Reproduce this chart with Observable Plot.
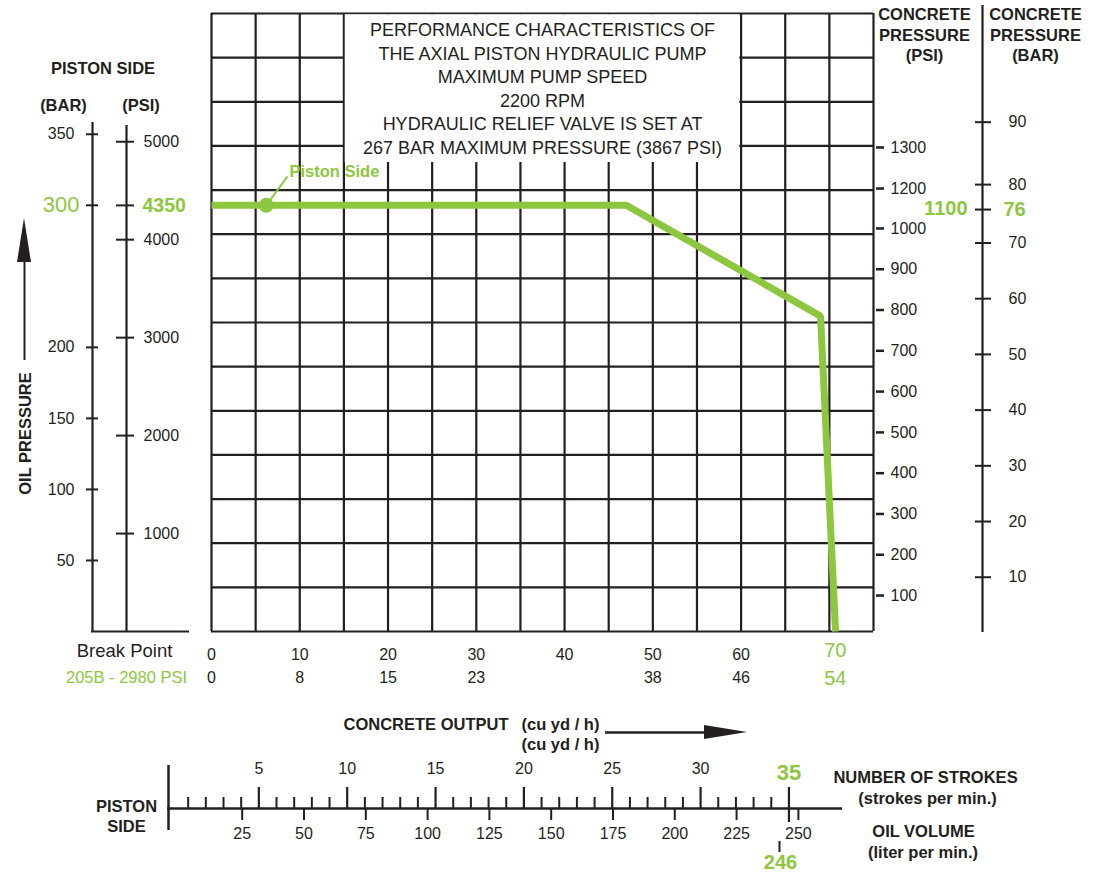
<!DOCTYPE html>
<html><head><meta charset="utf-8">
<script src="https://cdn.jsdelivr.net/npm/d3@7"></script>
<script src="https://cdn.jsdelivr.net/npm/@observablehq/plot@0.6"></script>
<style>html,body{margin:0;padding:0;background:#fff;}</style>
</head><body><div id="chart"></div>
<script>
// ================= DATA =================
const titleLines = ["PERFORMANCE CHARACTERISTICS OF","THE AXIAL PISTON HYDRAULIC PUMP","MAXIMUM PUMP SPEED","2200 RPM","HYDRAULIC RELIEF VALVE IS SET AT","267 BAR MAXIMUM PRESSURE (3867 PSI)"];
// performance curve: concrete output (cu yd/h) vs oil pressure (bar)
const curveOutput = [0, 47, 69, 70.7];
const curveOilBar = [300, 300, 222, 0];
const pistonSideOutput = 6.2;
const pistonSideLabel = "Piston Side";
// left axes (oil pressure)
const oilBarTicks = [50, 100, 150, 200, 350];
const oilBarMark = 300;
const oilPsiTicks = [1000, 2000, 3000, 4000, 5000];
const oilPsiMark = 4350;
// right axes (concrete pressure)
const concretePsiTicks = [100, 200, 300, 400, 500, 600, 700, 800, 900, 1000, 1200, 1300];
const concretePsiMark = 1100;
const concreteBarTicks = [10, 20, 30, 40, 50, 60, 70, 80, 90];
const concreteBarMark = 76;
// bottom axis (concrete output)
const outputTicks = [0, 10, 20, 30, 40, 50, 60];
const outputTicks2 = ["0", "8", "15", "23", "", "38", "46"];
const outputMark = 70;
const outputMark2 = "54";
// strokes / oil volume scale
const strokeMinor = [1,2,3,4,6,7,8,9,11,12,13,14,16,17,18,19,21,22,23,24,26,27,28,29,31,32,33,34];
const strokeMajor = [5, 10, 15, 20, 25, 30];
const strokeMark = 35;
const oilVolumeTicks = [25, 50, 75, 100, 125, 150, 175, 200, 225, 250];
const oilVolumeMark = 246;
const breakPoint = "205B - 2980 PSI";

// ============ CALIBRATION (secondary scales -> main units) ============
const psiPerBar = 14.5038;
const concretePsiToOilBar = d3.scaleLinear().domain([0, 1000, 1200, 1300]).range([-3.4, 283.7, 311.8, 340.7]);
const concreteBarToOilBar = d3.scaleLinear().domain([10, 76, 90]).range([38.2, 297.0, 358.5]);
const strokesToOutput = d3.scaleLinear().domain([0, 35]).range([-4.645, 65.42]);
const oilVolToOutput = d3.scaleLinear().domain([0, 250]).range([-3.523, 66.49]);

// ================= LAYOUT =================
const W = 1101, H = 874, FX0 = 211, FX1 = 873, FY0 = 631, FY1 = 13;
const XMAX = 75, YMAX = 435;
const ux = p => (p - FX0) * XMAX / (FX1 - FX0);
const uy = p => (FY0 - p) * YMAX / (FY0 - FY1);
const ink = "#231f20", green = "#8dc63f";
const FONT = "Liberation Sans, Arial, Helvetica, sans-serif";
const colLines = d3.range(0, XMAX + 1, 5);
const rowLines = d3.range(0, 15).map(i => i * YMAX / 14);

const curve = curveOutput.map((x, i) => ({x, y: curveOilBar[i]}));
const T = (items, opts = {}) => Plot.text(items, {x: d => ux(d[0]), y: d => uy(d[1]), text: d => d[2], fill: ink, fontFamily: FONT, fontSize: 16, ...opts});

const chart = Plot.plot({
  width: W, height: H,
  marginLeft: FX0, marginRight: W - FX1, marginTop: FY1, marginBottom: H - FY0,
  x: {domain: [0, XMAX], axis: null},
  y: {domain: [0, YMAX], axis: null},
  style: {fontFamily: FONT, background: "#fff", color: ink},
  marks: [
    // grid
    Plot.ruleX(colLines, {x: d => d, y1: 0, y2: YMAX, stroke: ink, strokeWidth: 2.2}),
    Plot.ruleY(rowLines, {y: d => d, x1: 0, x2: XMAX, stroke: ink, strokeWidth: 2.2}),
    // title box
    Plot.rect([{}], {x1: () => 15, x2: () => 60, y1: () => uy(162), y2: () => YMAX, fill: "#fff", insetLeft: 1.3, insetRight: 1.3, insetTop: 1.3}),
    Plot.text([titleLines.join("\n")], {x: () => 37.5, y: () => uy(87), text: d => d, fontSize: 18, lineHeight: 1.31, fill: ink, fontFamily: FONT}),
    // performance curve
    Plot.line(curve, {x: "x", y: "y", stroke: green, strokeWidth: 7, strokeLinecap: "butt", strokeLinejoin: "miter"}),
    Plot.link([{}], {x1: () => pistonSideOutput, y1: () => oilBarMark, x2: () => ux(287), y2: () => uy(176), stroke: green, strokeWidth: 2}),
    Plot.dot([{}], {x: () => pistonSideOutput, y: () => oilBarMark, r: 7.5, fill: green}),
    Plot.text([pistonSideLabel], {x: () => ux(289), y: () => uy(171), text: d => d, textAnchor: "start", fill: green, fontWeight: "bold", fontSize: 16.5, fontFamily: FONT}),

    // ---- left axes: oil pressure ----
    Plot.ruleX([[92, 122], [126, 125]], {x: d => ux(d[0]), y1: d => uy(d[1]), y2: 0, stroke: ink, strokeWidth: 2.2}),
    Plot.ruleY([0], {y: d => d, x1: () => ux(91), x2: () => ux(189), stroke: ink, strokeWidth: 2.2}),
    Plot.ruleY([...oilBarTicks, oilBarMark], {y: d => d, x1: () => ux(86), x2: () => ux(98), stroke: ink, strokeWidth: 2}),
    Plot.text(oilBarTicks, {y: d => d, x: () => ux(74), text: d => String(d), textAnchor: "end", fontSize: 16, fill: ink, fontFamily: FONT}),
    Plot.text([oilBarMark], {y: d => d, x: () => ux(79), text: d => String(d), textAnchor: "end", fontSize: 22, fill: green, fontFamily: FONT}),
    Plot.ruleY([...oilPsiTicks, oilPsiMark], {y: d => d / psiPerBar, x1: () => ux(116), x2: () => ux(134), stroke: ink, strokeWidth: 2}),
    Plot.text(oilPsiTicks, {y: d => d / psiPerBar, x: () => ux(143), text: d => String(d), textAnchor: "start", fontSize: 16, fill: ink, fontFamily: FONT}),
    Plot.text([oilPsiMark], {y: d => d / psiPerBar, x: () => ux(142), text: d => String(d), textAnchor: "start", fontSize: 19.5, fontWeight: "bold", fill: green, fontFamily: FONT}),
    T([[102.5, 68, "PISTON SIDE"], [63, 105, "(BAR)"], [140.5, 105, "(PSI)"]], {fontWeight: "bold", fontSize: 16.5}),
    T([[25, 433, "OIL PRESSURE"]], {fontWeight: "bold", fontSize: 16.5, rotate: -90}),
    Plot.ruleX([{}], {x: () => ux(24), y1: () => uy(360), y2: () => uy(258), stroke: ink, strokeWidth: 2}),
    Plot.areaX([[262, 17, 31], [218, 24, 24]], {y: d => uy(d[0]), x1: d => ux(d[1]), x2: d => ux(d[2]), fill: ink}),
    T([[124, 651, "Break Point"]], {fontSize: 18.5}),
    T([[126, 677, breakPoint]], {fontSize: 16.5, fill: green}),

    // ---- right axes: concrete pressure ----
    Plot.ruleY(concretePsiTicks, {y: d => concretePsiToOilBar(d), x1: () => ux(876), x2: () => ux(884), stroke: ink, strokeWidth: 2.5}),
    Plot.text(concretePsiTicks, {y: d => concretePsiToOilBar(d), x: () => ux(890), text: d => String(d), textAnchor: "start", fontSize: 16, fill: ink, fontFamily: FONT}),
    Plot.text([concretePsiMark], {y: d => concretePsiToOilBar(d), x: () => ux(967), text: d => String(d), textAnchor: "end", fontSize: 20, fontWeight: "bold", fill: green, fontFamily: FONT}),
    Plot.ruleX([{}], {x: () => ux(982), y1: () => uy(5), y2: () => uy(632), stroke: ink, strokeWidth: 2.2}),
    Plot.ruleY([...concreteBarTicks, concreteBarMark], {y: d => concreteBarToOilBar(d), x1: () => ux(975), x2: () => ux(991), stroke: ink, strokeWidth: 2}),
    Plot.text(concreteBarTicks, {y: d => concreteBarToOilBar(d), x: () => ux(1008), text: d => String(d), textAnchor: "start", fontSize: 16, fill: ink, fontFamily: FONT}),
    Plot.text([concreteBarMark], {y: d => concreteBarToOilBar(d), x: () => ux(1003), text: d => String(d), textAnchor: "start", fontSize: 20, fontWeight: "bold", fill: green, fontFamily: FONT}),
    T([[924, 33.5, "CONCRETE\nPRESSURE\n(PSI)"], [1035, 33.5, "CONCRETE\nPRESSURE\n(BAR)"]], {fontWeight: "bold", fontSize: 16.5, lineHeight: 1.24}),

    // ---- bottom axis: concrete output ----
    Plot.text(outputTicks, {x: d => d, y: () => uy(654), text: d => String(d), fontSize: 16, fill: ink, fontFamily: FONT}),
    Plot.text(outputTicks2, {x: (d, i) => outputTicks[i], y: () => uy(677), text: d => d, fontSize: 16, fill: ink, fontFamily: FONT}),
    Plot.text([outputMark], {x: d => d, y: () => uy(650), dx: 6, text: d => String(d), fontSize: 20, fill: green, fontFamily: FONT}),
    Plot.text([outputMark2], {x: () => outputMark, y: () => uy(678), dx: 6, text: d => d, fontSize: 20, fill: green, fontFamily: FONT}),
    T([[343, 724, "CONCRETE OUTPUT"], [521, 724, "(cu yd / h)"], [521, 744, "(cu yd / h)"]], {fontWeight: "bold", fontSize: 16.5, textAnchor: "start"}),
    Plot.ruleY([{}], {y: () => uy(732), x1: () => ux(605), x2: () => ux(706), stroke: ink, strokeWidth: 2.5}),
    Plot.areaY([[704, 725, 739], [747, 732, 732]], {x: d => ux(d[0]), y1: d => uy(d[1]), y2: d => uy(d[2]), fill: ink}),

    // ---- strokes / oil volume scale ----
    Plot.ruleX([{}], {x: () => ux(168), y1: () => uy(765), y2: () => uy(830), stroke: ink, strokeWidth: 2.5}),
    Plot.ruleY([{}], {y: () => uy(808), x1: () => ux(167), x2: () => ux(842), stroke: ink, strokeWidth: 2.5}),
    Plot.ruleX(strokeMinor, {x: d => strokesToOutput(d), y1: () => uy(808), y2: () => uy(797), stroke: ink, strokeWidth: 2}),
    Plot.ruleX(strokeMajor, {x: d => strokesToOutput(d), y1: () => uy(808), y2: () => uy(787), stroke: ink, strokeWidth: 2.2}),
    Plot.ruleX([strokeMark], {x: d => strokesToOutput(d), y1: () => uy(822), y2: () => uy(787), stroke: ink, strokeWidth: 2.2}),
    Plot.text(strokeMajor, {x: d => strokesToOutput(d), y: () => uy(768), text: d => String(d), fontSize: 16, fill: ink, fontFamily: FONT}),
    Plot.text([strokeMark], {x: d => strokesToOutput(d), y: () => uy(772), text: d => String(d), fontSize: 22, fontWeight: "bold", fill: green, fontFamily: FONT}),
    Plot.ruleX(oilVolumeTicks, {x: d => oilVolToOutput(d), y1: () => uy(808), y2: () => uy(820), stroke: ink, strokeWidth: 2}),
    Plot.text(oilVolumeTicks, {x: d => oilVolToOutput(d), y: () => uy(833), text: d => String(d), fontSize: 16, fill: ink, fontFamily: FONT}),
    Plot.ruleX([oilVolumeMark], {x: d => oilVolToOutput(d), y1: () => uy(841), y2: () => uy(852), dx: -9, stroke: ink, strokeWidth: 2}),
    Plot.text([oilVolumeMark], {x: d => oilVolToOutput(d), y: () => uy(862), dx: -8, text: d => String(d), fontSize: 20, fontWeight: "bold", fill: green, fontFamily: FONT}),
    T([[126, 806, "PISTON"], [126, 826, "SIDE"]], {fontWeight: "bold", fontSize: 16.5}),
    T([[925, 777, "NUMBER OF STROKES"], [927, 798, "(strokes per min.)"], [923, 831, "OIL VOLUME"], [922.5, 852, "(liter per min.)"]], {fontWeight: "bold", fontSize: 16.5})
  ]
});
document.getElementById("chart").appendChild(chart);
</script>
</body></html>
